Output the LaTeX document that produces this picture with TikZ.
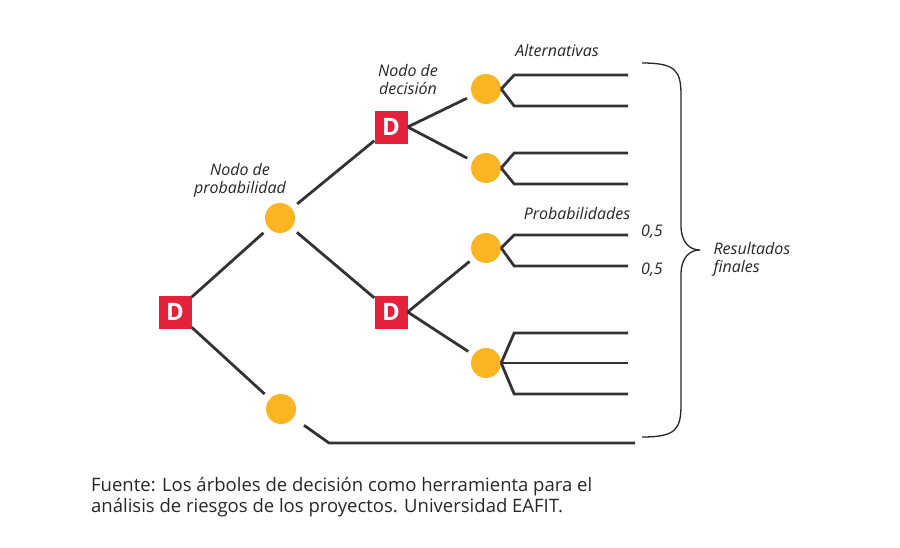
\documentclass[tikz,border=0pt]{standalone}
\usepackage{fontspec}
\setmainfont{Open Sans}
\usetikzlibrary{decorations.pathreplacing}
\definecolor{nodered}{HTML}{E5223B}
\definecolor{nodeorange}{HTML}{FBB523}
\definecolor{linegray}{HTML}{333333}
\begin{document}
\begin{tikzpicture}[x=1pt,y=-1pt,
    decision/.style={fill=nodered, text=white, minimum size=33pt, inner sep=0pt,
      font=\fontsize{24}{24}\selectfont\bfseries},
    chance/.style={circle, fill=nodeorange, minimum size=30pt, inner sep=0pt},
    branch/.style={draw=linegray, line width=2.8pt},
    tag/.style={font=\fontsize{16}{18}\selectfont\itshape, align=center, text=black!85}]
    \useasboundingbox (0,0) rectangle (900,547);

    % nodos
    \node [decision] (Root) at (175,312) {D};
    \node [chance] (ProbNode) at (280,218) {};
    \node [chance] (EndNode) at (281,409) {};
    \node [decision] (DecUp) at (391,127) {D};
    \node [decision] (DecDown) at (391,312) {D};
    \node [chance] (AltA) at (486,89) {};
    \node [chance] (AltB) at (486,168) {};
    \node [chance] (ProbA) at (486,248) {};
    \node [chance] (ProbB) at (486,363) {};

    % ramas principales
    \path [branch, shorten >=7pt] (Root) edge (ProbNode);
    \path [branch, shorten >=7pt] (Root) edge (EndNode);
    \path [branch, shorten <=7pt] (ProbNode) edge (DecUp);
    \path [branch, shorten <=7pt] (ProbNode) edge (DecDown);
    \path [branch, shorten >=6pt] (DecUp.east) edge (AltA);
    \path [branch, shorten >=6pt] (DecUp.east) edge (AltB);
    \path [branch, shorten >=6pt] (DecDown.east) edge (ProbA);
    \path [branch, shorten >=6pt] (DecDown.east) edge (ProbB);
    \draw [branch, shorten <=13pt] (EndNode) -- (329,443) -- (635,443);

    % resultados
    \draw [branch] (AltA.east) -- ++(13,-14) -- (628,75);
    \draw [branch] (AltA.east) -- ++(13,17) -- (628,106);
    \draw [branch] (AltB.east) -- ++(13,-15) -- (628,153);
    \draw [branch] (AltB.east) -- ++(13,16) -- (628,184);
    \draw [branch] (ProbA.east) -- ++(13,-13) -- (628,235);
    \draw [branch] (ProbA.east) -- ++(13,18) -- (628,266);
    \draw [branch] (ProbB.east) -- ++(13,-30) -- (628,333);
    \draw [branch] (ProbB.east) -- (628,363);
    \draw [branch] (ProbB.east) -- ++(13,31) -- (628,394);

    % llave
    \draw [line width=1.3pt, black!85] (642,63) .. controls (675,63) and (681,70) .. (681,95)
      -- (681,225) .. controls (681,243) and (690,250) .. (700,250)
      .. controls (690,250) and (681,257) .. (681,275)
      -- (681,405) .. controls (681,430) and (675,437) .. (642,437);

    % textos
    \node [tag] (DecLabel) at (408,79) {Nodo de\\decisión};
    \node [tag] (AltLabel) at (557,50) {Alternativas};
    \node [tag] (ProbLabel) at (240,180) {Nodo de\\probabilidad};
    \node [tag] (ProbsLabel) at (577,213) {Probabilidades};
    \node [tag] (HalfA) at (652,232) {0,5};
    \node [tag] (HalfB) at (652,270) {0,5};
    \node [tag, align=left, anchor=west] (Results) at (710,259) {Resultados\\finales};
    \node [anchor=north west, align=left, inner sep=0pt, text=black!85,
      font=\fontsize{18.5}{21}\selectfont] (Source) at (91,477)
      {Fuente: Los árboles de decisión como herramienta para el\\análisis de riesgos de los proyectos. Universidad EAFIT.};
\end{tikzpicture}
\end{document}
